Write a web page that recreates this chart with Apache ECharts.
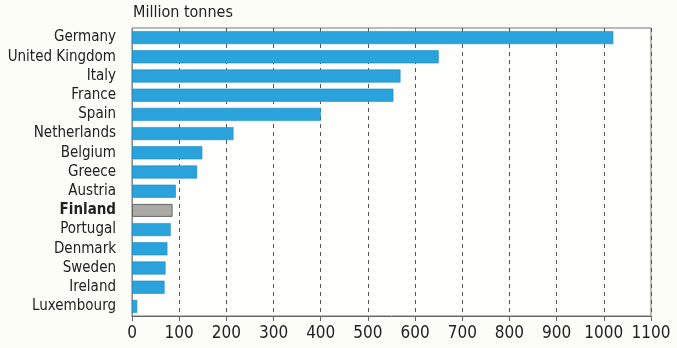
<!DOCTYPE html>
<html>
<head>
<meta charset="utf-8">
<script src="https://cdn.jsdelivr.net/npm/echarts@6/dist/echarts.min.js"></script>
<style>
  html, body { margin: 0; padding: 0; background: #fdfdf8; }
  #chart { width: 677px; height: 348px; }
</style>
</head>
<body>
<div id="chart"></div>
<script>
const countries = [
  "Germany", "United Kingdom", "Italy", "France", "Spain", "Netherlands",
  "Belgium", "Greece", "Austria", "Finland", "Portugal", "Denmark",
  "Sweden", "Ireland", "Luxembourg",
];
const tonnes = [1020, 650, 569, 554, 400, 215, 149, 138, 93, 86, 82, 75, 71, 69, 11];
const highlight = "Finland";

const FONT = "'Liberation Sans Narrow', 'DejaVu Sans Condensed', 'Roboto', sans-serif";
const BLUE = "#2aa3dc";
const GREY = "#a9a9a6";

const chart = echarts.init(document.getElementById("chart"));

chart.setOption({
  backgroundColor: "#fdfdf8",
  animation: false,
  title: {
    text: "Million tonnes",
    left: 133,
    top: 5,
    padding: 0,
    textStyle: { fontFamily: FONT, fontSize: 16, fontWeight: "normal", color: "#222" },
  },
  grid: {
    left: 132,
    right: 26,
    top: 28,
    bottom: 32,
    containLabel: false,
    outerBoundsMode: "none",
    show: true,
    backgroundColor: "#fefefc",
    borderColor: "#777",
    borderWidth: 1,
  },
  xAxis: {
    type: "value",
    min: 0,
    max: 1100,
    interval: 100,
    axisLine: { show: true, lineStyle: { color: "#666" } },
    axisTick: { show: true, length: 5, lineStyle: { color: "#666" } },
    axisLabel: {
      fontFamily: FONT, fontSize: 17, color: "#222", margin: 9,
      formatter: (v) => String(v),
    },
    splitLine: { show: true, lineStyle: { color: "#555", type: [4, 4], width: 1 } },
  },
  yAxis: {
    type: "category",
    inverse: true,
    data: countries.map((c) =>
      c === highlight ? { value: c, textStyle: { fontWeight: "bold" } } : c
    ),
    axisLine: { show: true, lineStyle: { color: "#888" } },
    axisTick: { show: false },
    axisLabel: { interval: 0, fontFamily: FONT, fontSize: 15, color: "#222", margin: 16 },
  },
  series: [
    {
      type: "bar",
      barWidth: 13,
      data: tonnes.map((v, i) => ({
        value: v,
        itemStyle: countries[i] === highlight
          ? { color: GREY, borderColor: "#666", borderWidth: 1 }
          : { color: BLUE, borderColor: "#1d88bd", borderWidth: 0.6 },
      })),
    },
  ],
});
</script>
</body>
</html>
